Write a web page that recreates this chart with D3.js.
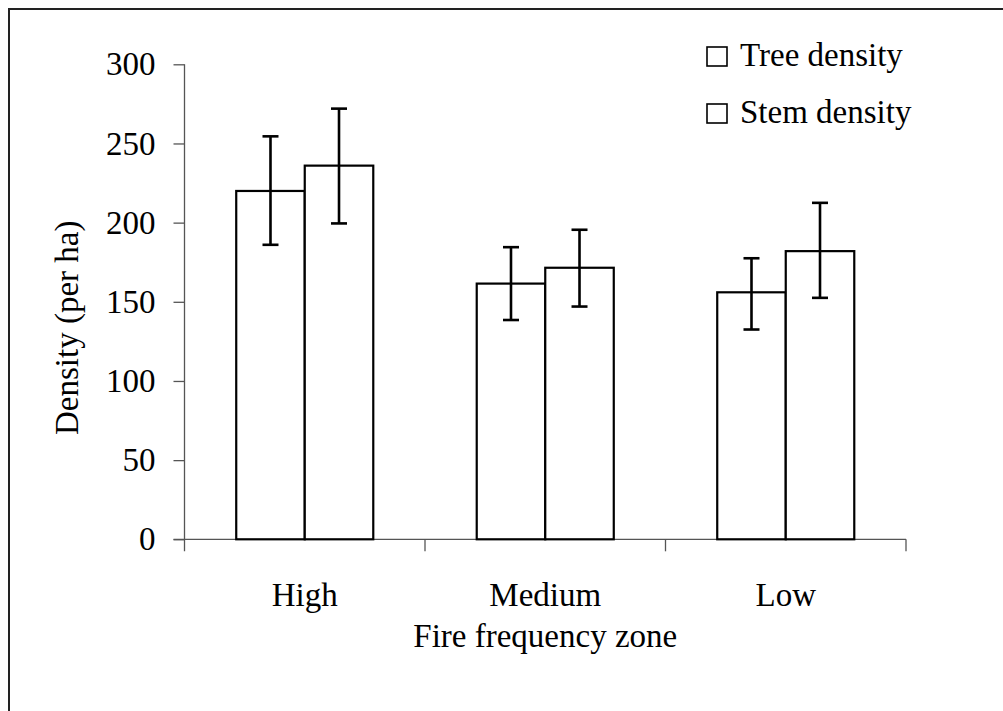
<!DOCTYPE html>
<html>
<head>
<meta charset="utf-8">
<script src="https://cdn.jsdelivr.net/npm/d3@7"></script>
<style>
  html, body { margin: 0; padding: 0; background: #fff; }
  svg { display: block; }
  text { font-family: "Liberation Serif", "Times New Roman", serif; fill: #000; }
</style>
</head>
<body>
<svg id="chart" width="1003" height="711"></svg>
<script>
const categories = ["High", "Medium", "Low"];
const seriesNames = ["Tree density", "Stem density"];
const treeValues = [220, 161.5, 156];
const treeErrLow = [186, 138.5, 132.5];
const treeErrHigh = [254.5, 184.5, 177.5];
const stemValues = [236, 171.5, 182];
const stemErrLow = [199.5, 147, 152.5];
const stemErrHigh = [272, 195.5, 212.5];
const yTicks = [0, 50, 100, 150, 200, 250, 300];
const xTitle = "Fire frequency zone";
const yTitle = "Density (per ha)";

(function () {
const svg = d3.select("#chart");
const FS = 33;

// outer frame
svg.append("rect")
  .attr("x", 9).attr("y", 9).attr("width", 1010).attr("height", 720)
  .attr("fill", "none").attr("stroke", "#222").attr("stroke-width", 2);

const pLeft = 184.5, pRight = 906, pTop = 64.3, pBottom = 539.3;

const x0 = d3.scaleBand().domain(categories).range([pLeft, pRight]).padding(0);
const x1 = d3.scaleBand().domain(seriesNames).range([0, x0.bandwidth()])
  .paddingInner(0).paddingOuter(0.755);
const y = d3.scaleLinear().domain([0, 300]).range([pBottom, pTop]);

const series = [
  { name: seriesNames[0], values: treeValues, lo: treeErrLow, hi: treeErrHigh },
  { name: seriesNames[1], values: stemValues, lo: stemErrLow, hi: stemErrHigh }
];

// Y axis
const yAxis = d3.axisLeft(y).tickValues(yTicks).tickSize(11).tickPadding(18).tickFormat(d3.format("d"));
const gy = svg.append("g").attr("transform", `translate(${pLeft},0)`).call(yAxis);
gy.select(".domain").remove();
gy.selectAll(".tick line").attr("stroke", "#555").attr("stroke-width", 1.3);
gy.selectAll(".tick text").style("font-size", FS + "px").style("font-family", "Liberation Serif").attr("fill", "#000");
svg.append("line").attr("x1", pLeft).attr("x2", pLeft).attr("y1", pTop).attr("y2", pBottom + 12)
  .attr("stroke", "#555").attr("stroke-width", 1.3);

// X axis line with boundary ticks
svg.append("line").attr("x1", pLeft - 11).attr("x2", pRight).attr("y1", pBottom).attr("y2", pBottom)
  .attr("stroke", "#555").attr("stroke-width", 1.3);
const boundaries = categories.map(c => x0(c) + x0.bandwidth());
svg.selectAll(".xb").data(boundaries).enter().append("line")
  .attr("x1", d => d).attr("x2", d => d).attr("y1", pBottom).attr("y2", pBottom + 12)
  .attr("stroke", "#555").attr("stroke-width", 1.3);

// category labels
svg.selectAll(".cat").data(categories).enter().append("text")
  .attr("x", d => x0(d) + x0.bandwidth() / 2).attr("y", 606)
  .attr("text-anchor", "middle").style("font-size", FS + "px").text(d => d);

// bars
series.forEach(s => {
  const g = svg.append("g");
  g.selectAll("rect").data(categories).enter().append("rect")
    .attr("x", (c) => x0(c) + x1(s.name))
    .attr("y", (c, i) => y(s.values[i]))
    .attr("width", x1.bandwidth())
    .attr("height", (c, i) => y(0) - y(s.values[i]))
    .attr("fill", "#fff").attr("stroke", "#000").attr("stroke-width", 2.2);
});

// error bars
series.forEach(s => {
  const g = svg.append("g").attr("stroke", "#000").attr("stroke-width", 2.6);
  categories.forEach((c, i) => {
    const cx = x0(c) + x1(s.name) + x1.bandwidth() / 2;
    g.append("line").attr("x1", cx).attr("x2", cx).attr("y1", y(s.lo[i])).attr("y2", y(s.hi[i]));
    g.append("line").attr("x1", cx - 8).attr("x2", cx + 8).attr("y1", y(s.lo[i])).attr("y2", y(s.lo[i]));
    g.append("line").attr("x1", cx - 8).attr("x2", cx + 8).attr("y1", y(s.hi[i])).attr("y2", y(s.hi[i]));
  });
});

// axis titles
svg.append("text").attr("x", (pLeft + pRight) / 2).attr("y", 647)
  .attr("text-anchor", "middle").style("font-size", FS + "px").text(xTitle);
svg.append("text").attr("transform", `translate(78,${(pTop + pBottom) / 2 + 26}) rotate(-90)`)
  .attr("text-anchor", "middle").style("font-size", FS + "px").text(yTitle);

// legend
const legend = svg.append("g");
seriesNames.forEach((n, i) => {
  const yy = 66 + i * 57;
  legend.append("rect").attr("x", 707).attr("y", yy - 19).attr("width", 20).attr("height", 19)
    .attr("fill", "#fff").attr("stroke", "#000").attr("stroke-width", 1.6);
  legend.append("text").attr("x", 740).attr("y", yy).style("font-size", FS + "px").text(n);
});
})();
</script>
</body>
</html>
